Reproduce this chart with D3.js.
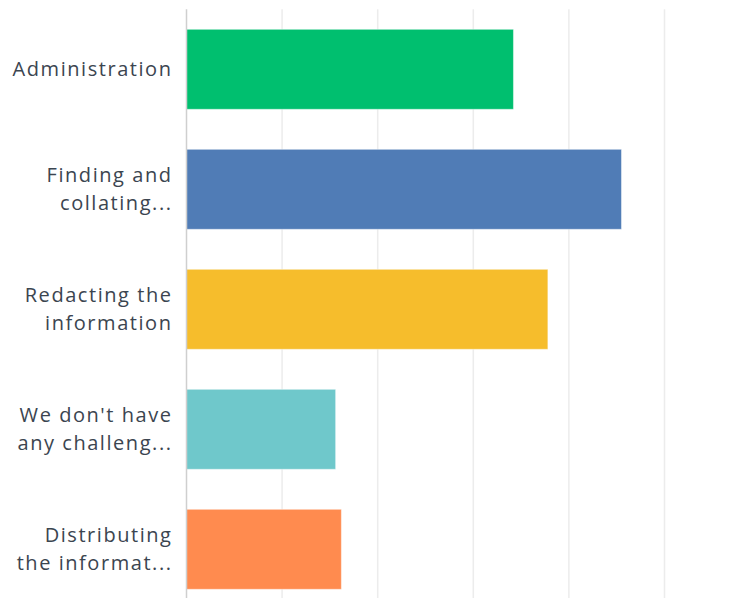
<!DOCTYPE html>
<html>
<head>
<meta charset="utf-8">
<script src="https://cdn.jsdelivr.net/npm/d3@7"></script>
<style>
  html, body { margin: 0; padding: 0; background: #fff; }
  svg { display: block; }
  .label { font-family: "Open Sans", sans-serif; font-size: 20px; letter-spacing: 1.55px; fill: #3b4550; }
</style>
</head>
<body>
<svg id="chart" width="752" height="598"></svg>
<script>
// Answer choices (wrapped label lines as shown on the axis)
const categories = [
  "Administration",
  "Finding and collating...",
  "Redacting the information",
  "We don't have any challeng...",
  "Distributing the informat..."
];
const labelLines = [
  ["Administration"],
  ["Finding and", "collating..."],
  ["Redacting the", "information"],
  ["We don't have", "any challeng..."],
  ["Distributing", "the informat..."]
];
// Share of respondents (%)
const values = [34.2, 45.5, 37.8, 15.6, 16.2];
const colors = ["#00bf6f", "#507cb6", "#f6bd2c", "#6fc8cb", "#ff8b4f"];
const gridTicks = [0, 10, 20, 30, 40, 50, 60, 70, 80, 90, 100];

const svg = d3.select("#chart");
const plotLeft = 186.5, plotTop = 9.3;
const plotW = 956, plotH = 600;

const x = d3.scaleLinear().domain([0, 100]).range([plotLeft, plotLeft + plotW]);
const y = d3.scaleBand().domain(categories).range([plotTop, plotTop + plotH]).paddingInner(1 / 3).paddingOuter(1 / 6);

// vertical gridlines
svg.append("g").selectAll("line")
  .data(gridTicks.slice(1))
  .join("line")
  .attr("x1", d => x(d)).attr("x2", d => x(d))
  .attr("y1", plotTop).attr("y2", plotTop + plotH)
  .attr("stroke", "#ececec").attr("stroke-width", 1.5);

// bars
svg.append("g").selectAll("rect")
  .data(categories)
  .join("rect")
  .attr("x", x(0))
  .attr("y", d => y(d))
  .attr("width", (d, i) => x(values[i]) - x(0))
  .attr("height", y.bandwidth())
  .attr("fill", (d, i) => colors[i])
  .attr("stroke", "rgba(255,255,255,0.45)")
  .attr("stroke-width", 1);

// baseline axis
svg.append("line")
  .attr("x1", x(0)).attr("x2", x(0))
  .attr("y1", plotTop).attr("y2", plotTop + plotH)
  .attr("stroke", "#cfcfcf").attr("stroke-width", 1.5);

// category labels, right-aligned against the axis
const labelX = 172.5;
const lineH = 28;
const lab = svg.append("g").selectAll("text")
  .data(categories)
  .join("text")
  .attr("class", "label")
  .attr("text-anchor", "end")
  .attr("x", labelX)
  .attr("y", d => y(d) + y.bandwidth() / 2);

lab.each(function (d, i) {
  const lines = labelLines[i];
  const n = lines.length;
  d3.select(this).selectAll("tspan")
    .data(lines)
    .join("tspan")
    .attr("x", labelX)
    .attr("dy", (l, j) => j === 0 ? ((-(n - 1) / 2) * lineH + 7) + "px" : lineH + "px")
    .text(l => l);
});
</script>
</body>
</html>
